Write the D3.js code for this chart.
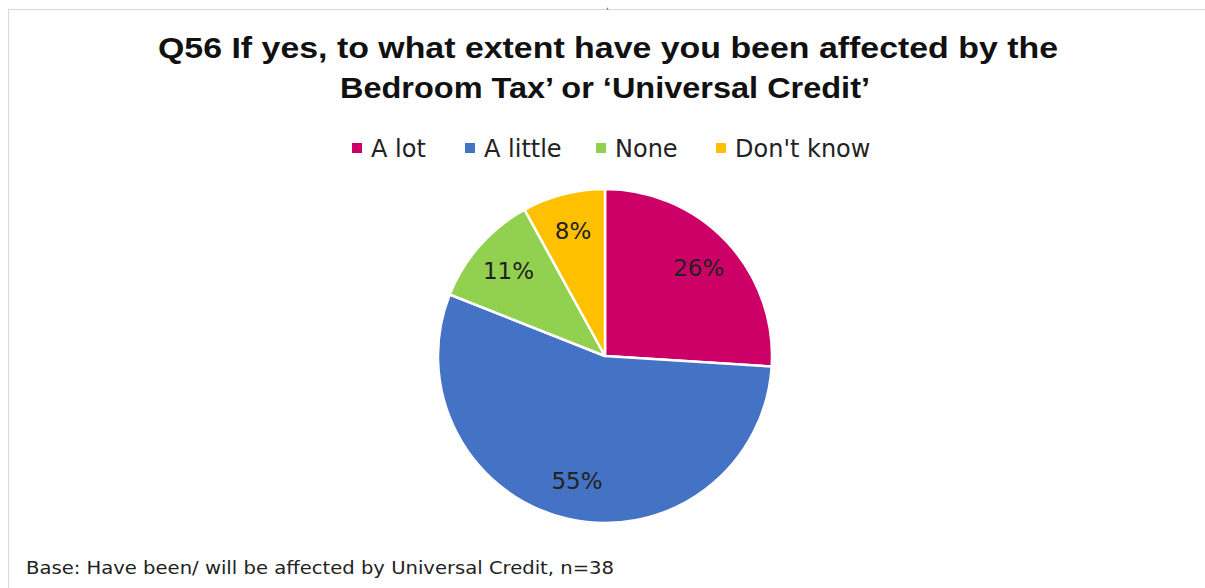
<!DOCTYPE html>
<html>
<head>
<meta charset="utf-8">
<script src="https://cdn.jsdelivr.net/npm/d3@7"></script>
<style>
  html, body { margin: 0; padding: 0; background: #fff; }
  svg { display: block; }
</style>
</head>
<body>
<svg id="chart" width="1205" height="588"></svg>
<script>
// Survey responses, Q56
const categories = ["A lot", "A little", "None", "Don't know"];
const values = [26, 55, 11, 8];
const colors = ["#CC0066", "#4472C4", "#92D050", "#FFC000"];
const titleLines = [
  "Q56 If yes, to what extent have you been affected by the",
  "Bedroom Tax\u2019 or \u2018Universal Credit\u2019"
];
const footnote = "Base: Have been/ will be affected by Universal Credit, n=38";

const svg = d3.select("#chart");
const font = "'DejaVu Sans', 'Liberation Sans', Arial, sans-serif";

// chart frame
svg.append("rect")
  .attr("x", 8.5).attr("y", 9.5)
  .attr("width", 1210).attr("height", 600)
  .attr("fill", "#fff")
  .attr("stroke", "#d9d9d9").attr("stroke-width", 1);

// clipped text fragment above the frame
svg.append("text")
  .attr("x", 606).attr("y", 9)
  .attr("font-family", font).attr("font-size", 9).attr("fill", "#444")
  .text(",");

// title
const titleWidths = [900, 530];
const titleCenters = [608, 605];
svg.append("g").selectAll("text")
  .data(titleLines)
  .join("text")
  .attr("x", (d, i) => titleCenters[i])
  .attr("y", (d, i) => 58 + i * 40)
  .attr("text-anchor", "middle")
  .attr("font-family", "'Liberation Sans', Arial, sans-serif")
  .attr("font-weight", "bold")
  .attr("font-size", 30)
  .attr("fill", "#111")
  .attr("textLength", (d, i) => titleWidths[i])
  .attr("lengthAdjust", "spacingAndGlyphs")
  .text(d => d);

// legend
const legendX = [352, 465, 596, 716];
const legend = svg.append("g").selectAll("g")
  .data(categories)
  .join("g")
  .attr("transform", (d, i) => `translate(${legendX[i]},148)`);
legend.append("rect")
  .attr("x", 0).attr("y", -5)
  .attr("width", 10).attr("height", 10)
  .attr("fill", (d, i) => colors[i]);
legend.append("text")
  .attr("x", 19).attr("y", 9)
  .attr("font-family", font)
  .attr("font-size", 24)
  .attr("fill", "#222")
  .text(d => d);

// pie
const cx = 605, cy = 356, radius = 167;
const pie = d3.pie().sort(null).value(d => d.value);
const arcs = pie(categories.map((c, i) => ({ name: c, value: values[i], color: colors[i] })));
const arc = d3.arc().innerRadius(0).outerRadius(radius);
const labelArc = d3.arc().innerRadius(radius * 0.77).outerRadius(radius * 0.77);

const g = svg.append("g").attr("transform", `translate(${cx},${cy})`);
g.selectAll("path")
  .data(arcs)
  .join("path")
  .attr("d", arc)
  .attr("fill", d => d.data.color)
  .attr("stroke", "#fff")
  .attr("stroke-width", 2.5)
  .attr("stroke-linejoin", "round");

g.selectAll("text")
  .data(arcs)
  .join("text")
  .attr("transform", d => `translate(${labelArc.centroid(d)})`)
  .attr("text-anchor", "middle")
  .attr("dominant-baseline", "central")
  .attr("font-family", font)
  .attr("font-size", 23)
  .attr("fill", "#222")
  .text(d => d.data.value + "%");

// footnote
svg.append("text")
  .attr("x", 26).attr("y", 574)
  .attr("font-family", font)
  .attr("font-size", 17)
  .attr("fill", "#222")
  .attr("textLength", 588)
  .attr("lengthAdjust", "spacingAndGlyphs")
  .text(footnote);
</script>
</body>
</html>
